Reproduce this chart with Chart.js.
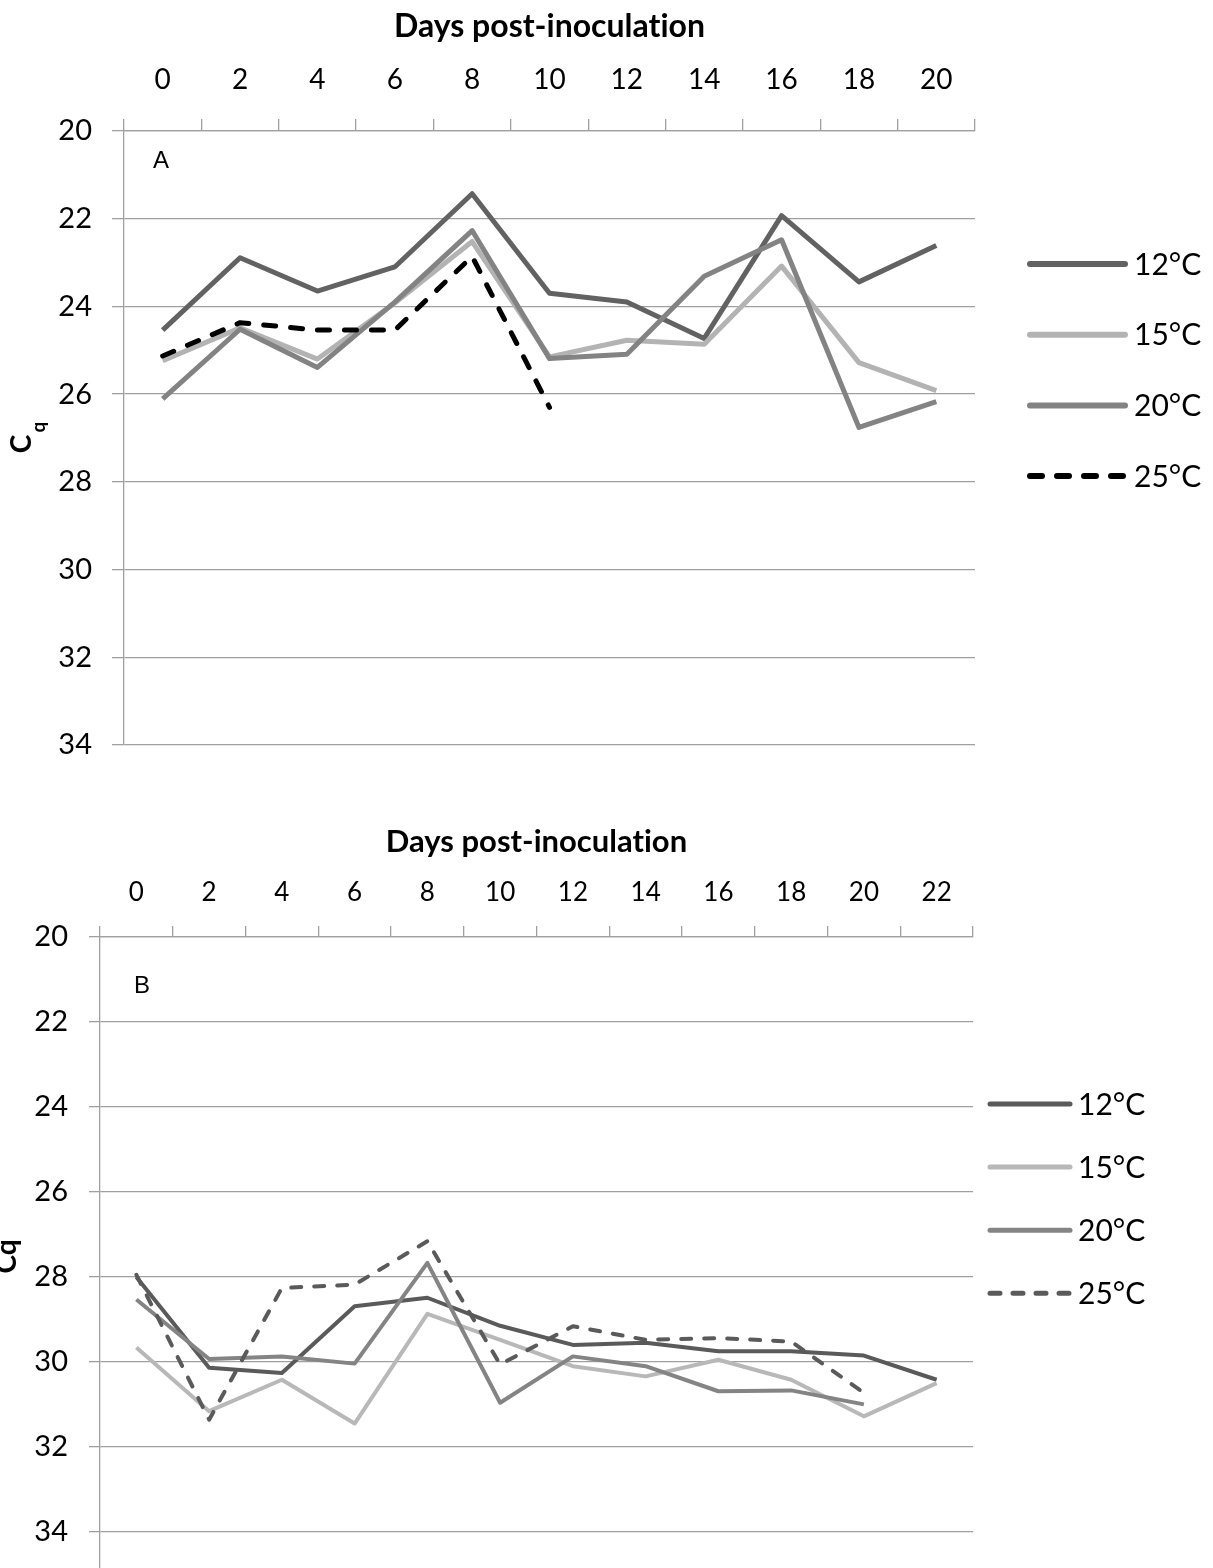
<!DOCTYPE html>
<html><head><meta charset="utf-8">
<script src="https://cdn.jsdelivr.net/npm/chart.js@4.4.1/dist/chart.umd.min.js"></script>
<style>
html,body{margin:0;padding:0;background:#fff;width:1213px;height:1568px;overflow:hidden;}
#wrapA{position:absolute;left:0;top:0;width:1213px;height:790px;overflow:hidden;}
#wrapB{position:absolute;left:0;top:800px;width:1213px;height:768px;overflow:hidden;}
canvas{display:block;}
</style></head><body>
<div id="wrapA"><canvas id="chartA" width="1213" height="790"></canvas></div>
<div id="wrapB"><canvas id="chartB" width="1213" height="808"></canvas></div>
<script>
// ---- data ----
const seriesLabels = ['12°C', '15°C', '20°C', '25°C'];
const xTitle = 'Days post-inoculation';
const yTickValues = [20, 22, 24, 26, 28, 30, 32, 34];

// Panel A
const daysA = ['0', '2', '4', '6', '8', '10', '12', '14', '16', '18', '20'];
const cq12A = [24.54, 22.89, 23.65, 23.10, 21.43, 23.70, 23.90, 24.73, 21.93, 23.44, 22.61];
const cq15A = [25.24, 24.49, 25.20, 23.92, 22.52, 25.15, 24.77, 24.86, 23.08, 25.28, 25.92];
const cq20A = [26.11, 24.52, 25.39, 23.90, 22.27, 25.19, 25.09, 23.31, 22.48, 26.76, 26.17];
const cq25A = [25.13, 24.37, 24.54, 24.54, 22.86, 26.30];

// Panel B
const daysB = ['0', '2', '4', '6', '8', '10', '12', '14', '16', '18', '20', '22'];
const cq12B = [28.00, 30.14, 30.26, 28.69, 28.49, 29.15, 29.60, 29.55, 29.75, 29.75, 29.85, 30.42];
const cq15B = [29.66, 31.16, 30.42, 31.45, 28.87, 29.48, 30.10, 30.34, 29.95, 30.42, 31.28, 30.50];
const cq20B = [28.53, 29.93, 29.87, 30.04, 27.67, 30.96, 29.87, 30.10, 30.69, 30.67, 31.00];
const cq25B = [27.95, 31.36, 28.26, 28.18, 27.16, 30.06, 29.16, 29.48, 29.44, 29.52, 30.73];

// ---- styling ----
const FONT = 'Lato';
const gridColor = '#a0a0a0';

const noLigaturePlugin = {
  id: 'noLigature',
  beforeDraw(chart) {
    try { chart.ctx.textRendering = 'optimizeSpeed'; } catch (e) {}
  }
};

const decorPlugin = {
  id: 'panelDecor',
  afterDraw(chart, args, o) {
    const ctx = chart.ctx, ca = chart.chartArea;
    ctx.save();
    ctx.fillStyle = '#000';
    ctx.font = '24px "Liberation Sans", Arial, sans-serif';
    ctx.textAlign = 'left';
    ctx.textBaseline = 'middle';
    ctx.fillText(o.letter, ca.left + o.letterDX, ca.top + o.letterDY);
    const cy = (ca.top + ca.bottom) / 2;
    if (o.subscript) {
      ctx.save();
      ctx.translate(o.cX, cy + o.cDY);
      ctx.rotate(-Math.PI / 2);
      ctx.textAlign = 'center';
      ctx.textBaseline = 'middle';
      ctx.font = 'bold ' + o.cSize + 'px ' + FONT;
      ctx.fillText('C', 0, 0);
      ctx.restore();
      ctx.save();
      ctx.translate(o.qX, cy + o.qDY);
      ctx.rotate(-Math.PI / 2);
      ctx.textAlign = 'center';
      ctx.textBaseline = 'middle';
      ctx.font = 'bold ' + o.qSize + 'px ' + FONT;
      ctx.fillText('q', 0, 0);
      ctx.restore();
    } else {
      ctx.save();
      ctx.translate(o.cX, cy + o.cDY);
      ctx.rotate(-Math.PI / 2);
      ctx.textAlign = 'center';
      ctx.textBaseline = 'alphabetic';
      ctx.font = 'bold ' + o.cSize + 'px ' + FONT;
      ctx.fillText('Cq', 0, 0);
      ctx.restore();
    }
    chart.data.datasets.forEach((ds, i) => {
      const y = o.legY0 + i * o.legGap;
      ctx.beginPath();
      ctx.setLineDash(ds.borderDash || []);
      ctx.lineCap = 'round';
      ctx.strokeStyle = ds.borderColor;
      ctx.lineWidth = o.legLineWidth;
      ctx.moveTo(o.legX1, y);
      ctx.lineTo(o.legX2, y);
      ctx.stroke();
      ctx.setLineDash([]);
      ctx.fillStyle = '#000';
      ctx.font = o.legFontSize + 'px ' + FONT;
      ctx.textAlign = 'left';
      ctx.textBaseline = 'middle';
      ctx.fillText(ds.label, o.legX2 + o.legTextGap, y + 1);
    });
    ctx.restore();
  }
};

function makeDatasets(values, colors, width, dash) {
  return values.map((v, i) => ({
    label: seriesLabels[i],
    data: v,
    borderColor: colors[i],
    backgroundColor: colors[i],
    borderWidth: width,
    borderDash: i === 3 ? dash : [],
    borderCapStyle: i === 3 ? 'round' : 'butt',
    borderJoinStyle: 'round',
    pointRadius: 0,
    tension: 0,
    fill: false,
    order: 3 - i
  }));
}

function buildOptions(p) {
  return {
    responsive: false,
    animation: false,
    devicePixelRatio: 1,
    layout: { padding: { left: 0, right: p.padRight, top: 0, bottom: p.padBottom } },
    plugins: { legend: { display: false }, tooltip: { enabled: false }, panelDecor: p.decor },
    scales: {
      x: {
        type: 'category', position: 'top', offset: true,
        grid: { offset: true, drawOnChartArea: false, drawTicks: true, tickLength: p.xTickLen, color: gridColor, lineWidth: 1.3 },
        border: { display: true, color: gridColor, width: 1.3 },
        ticks: { font: { family: FONT, size: p.xTickSize }, color: '#000', padding: p.xTickPad, maxRotation: 0, autoSkip: false },
        title: { display: true, text: xTitle, color: '#000',
          font: { family: FONT, size: p.titleSize, weight: 'bold' },
          padding: { top: p.titlePadTop, bottom: 0 } },
        afterFit(s) { s.height = p.xAxisHeight; }
      },
      y: {
        type: 'linear', reverse: true, min: 20, max: p.yMax,
        afterBuildTicks(s) { s.ticks = yTickValues.map(v => ({ value: v })); },
        grid: { color: gridColor, lineWidth: 1.3, drawTicks: true, tickLength: p.yTickLen },
        border: { display: true, color: gridColor, width: 1.3 },
        ticks: { font: { family: FONT, size: 29 }, color: '#000', padding: p.yTickPad },
        afterFit(s) { s.width = p.yAxisWidth; }
      }
    }
  };
}

const colorsA = ['#626262', '#b3b3b3', '#838383', '#000000'];
const colorsB = ['#5a5a5a', '#b8b8b8', '#848484', '#5a5a5a'];

new Chart(document.getElementById('chartA'), {
  type: 'line',
  data: { labels: daysA, datasets: makeDatasets([cq12A, cq15A, cq20A, cq25A], colorsA, 5, [12, 15]) },
  options: buildOptions({
    padRight: 238, padBottom: 45, xAxisHeight: 131, yAxisWidth: 124, yMax: 34,
    xTickLen: 12, xTickSize: 28, xTickPad: 22, titleSize: 32, titlePadTop: 7,
    yTickLen: 12, yTickPad: 20,
    decor: { letter: 'A', letterDX: 29, letterDY: 30,
      subscript: true, cX: 22, cDY: 6, cSize: 28, qX: 39, qDY: -11, qSize: 19,
      legX1: 1030, legX2: 1125, legY0: 264, legGap: 70.7, legLineWidth: 6, legFontSize: 30, legTextGap: 9 }
  }),
  plugins: [noLigaturePlugin, decorPlugin]
});

new Chart(document.getElementById('chartB'), {
  type: 'line',
  data: { labels: daysB, datasets: makeDatasets([cq12B, cq15B, cq20B, cq25B], colorsB, 4, [10, 13]) },
  options: buildOptions({
    padRight: 240, padBottom: 40, xAxisHeight: 137, yAxisWidth: 100, yMax: 34.85,
    xTickLen: 11, xTickSize: 26, xTickPad: 18, titleSize: 31, titlePadTop: 23,
    yTickLen: 11, yTickPad: 21,
    decor: { letter: 'B', letterDX: 34, letterDY: 49,
      subscript: false, cX: 16, cDY: 4, cSize: 28,
      legX1: 990, legX2: 1070, legY0: 304, legGap: 63.1, legLineWidth: 5, legFontSize: 30, legTextGap: 8 }
  }),
  plugins: [noLigaturePlugin, decorPlugin]
});
</script>
</body></html>
